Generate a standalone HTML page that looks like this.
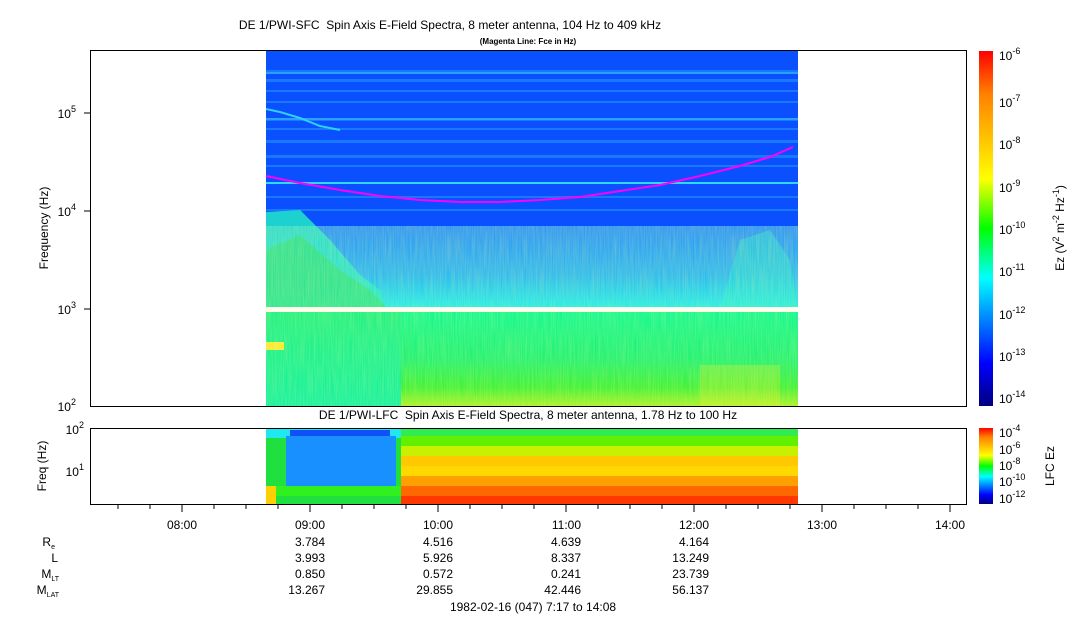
<!DOCTYPE html>
<html><head><meta charset="utf-8"><style>
body{margin:0;background:#fff}
svg{display:block;font-family:"Liberation Sans",sans-serif}
</style></head><body>
<svg width="1083" height="620" viewBox="0 0 1083 620" xmlns="http://www.w3.org/2000/svg">
<defs>
<linearGradient id="cb" x1="0" y1="1" x2="0" y2="0">
<stop offset="0" stop-color="#000080"/><stop offset="0.12" stop-color="#0000ff"/><stop offset="0.36" stop-color="#00ffff"/><stop offset="0.5" stop-color="#00ff00"/><stop offset="0.64" stop-color="#ffff00"/><stop offset="0.88" stop-color="#ff8000"/><stop offset="1" stop-color="#ff0000"/>
</linearGradient>
<linearGradient id="mid" x1="0" y1="0" x2="0" y2="1">
<stop offset="0" stop-color="#1c8cff"/><stop offset="0.6" stop-color="#1cb4f8"/><stop offset="1" stop-color="#10ecf0"/>
</linearGradient>
<linearGradient id="low" x1="0" y1="0" x2="0" y2="1">
<stop offset="0" stop-color="#00f890"/><stop offset="0.5" stop-color="#10f070"/><stop offset="0.8" stop-color="#30f030"/><stop offset="1" stop-color="#a0f020"/>
</linearGradient>
<linearGradient id="lowl" x1="0" y1="0" x2="0" y2="1">
<stop offset="0" stop-color="#10f080"/><stop offset="1" stop-color="#00f0a0"/>
</linearGradient>
<filter id="nz" x="0" y="0" width="1" height="1"><feTurbulence type="fractalNoise" baseFrequency="0.9 0.03" numOctaves="2" seed="3"/><feColorMatrix values="0 0 0 0 1  0 0 0 0 1  0 0 0 0 0.3  0 0 0 0.35 0"/><feComposite in2="SourceGraphic" operator="in"/></filter>
</defs>
<text x="450" y="29" font-size="12" text-anchor="middle" xml:space="preserve">DE 1/PWI-SFC  Spin Axis E-Field Spectra, 8 meter antenna, 104 Hz to 409 kHz</text>
<text x="528" y="44" font-size="8" font-weight="bold" text-anchor="middle">(Magenta Line: Fce in Hz)</text>

<rect x="266" y="51" width="532" height="175" fill="#0a50ff"/>
<g fill="#1a78ff">
<rect x="266" y="70" width="532" height="2"/><rect x="266" y="79" width="532" height="3"/><rect x="266" y="90" width="532" height="2"/><rect x="266" y="101" width="532" height="2"/><rect x="266" y="118" width="532" height="3"/><rect x="266" y="128" width="532" height="2"/><rect x="266" y="140" width="532" height="3"/><rect x="266" y="155" width="532" height="3"/><rect x="266" y="165" width="532" height="2"/><rect x="266" y="196" width="532" height="2"/><rect x="266" y="209" width="532" height="2"/>
</g>
<rect x="266" y="72" width="532" height="2" fill="#2aa0ff"/>
<rect x="266" y="118" width="532" height="2" fill="#2aa0ff"/>
<rect x="266" y="182" width="532" height="2" fill="#30d8ff"/>
<polyline points="266,109 280,112 300,118 320,126 340,130" fill="none" stroke="#30d0f0" stroke-width="2"/>
<rect x="266" y="226" width="532" height="81" fill="url(#mid)"/>
<polygon points="266,212 300,210 330,240 360,275 380,290 386,307 266,307" fill="#20e8c8" opacity="0.85"/>
<polygon points="266,250 300,235 340,270 370,290 386,307 266,307" fill="#20e060" opacity="0.55"/>
<polygon points="720,307 740,240 770,230 790,260 798,307" fill="#20f0d0" opacity="0.4"/>
<rect x="266" y="312" width="532" height="94" fill="url(#low)"/>
<rect x="266" y="312" width="135" height="94" fill="url(#lowl)"/>
<rect x="266" y="342" width="18" height="8" fill="#f8e830"/>
<rect x="700" y="365" width="80" height="41" fill="#e8f020" opacity="0.3"/>
<rect x="266" y="226" width="532" height="180" filter="url(#nz)"/>
<polyline points="266,176 300,183 340,190 380,196 420,200 460,202 500,202 540,200 580,197 620,191 660,185 700,176 740,166 770,157 793,147" fill="none" stroke="#ff00ff" stroke-width="2"/>
<rect x="90.5" y="50.5" width="876" height="356" fill="none" stroke="#000"/>

<g font-size="12" text-anchor="end">
<text x="76" y="118">10<tspan font-size="9" dy="-6">5</tspan></text>
<text x="76" y="216">10<tspan font-size="9" dy="-6">4</tspan></text>
<text x="76" y="314">10<tspan font-size="9" dy="-6">3</tspan></text>
<text x="76" y="411">10<tspan font-size="9" dy="-6">2</tspan></text>
</g>
<g stroke="#000">
<line x1="84" y1="113" x2="90" y2="113"/><line x1="84" y1="211" x2="90" y2="211"/><line x1="84" y1="309" x2="90" y2="309"/>
</g>
<text transform="translate(48,228) rotate(-90)" font-size="12" text-anchor="middle">Frequency (Hz)</text>

<rect x="979" y="51" width="14" height="355" fill="url(#cb)"/>
<g font-size="12">
<text x="999" y="60">10<tspan font-size="9" dy="-6">-6</tspan></text>
<text x="999" y="107">10<tspan font-size="9" dy="-6">-7</tspan></text>
<text x="999" y="149">10<tspan font-size="9" dy="-6">-8</tspan></text>
<text x="999" y="192">10<tspan font-size="9" dy="-6">-9</tspan></text>
<text x="999" y="234">10<tspan font-size="9" dy="-6">-10</tspan></text>
<text x="999" y="276">10<tspan font-size="9" dy="-6">-11</tspan></text>
<text x="999" y="319">10<tspan font-size="9" dy="-6">-12</tspan></text>
<text x="999" y="361">10<tspan font-size="9" dy="-6">-13</tspan></text>
<text x="999" y="403">10<tspan font-size="9" dy="-6">-14</tspan></text>
</g>
<text transform="translate(1064,228) rotate(-90)" font-size="12" text-anchor="middle">Ez (V<tspan font-size="9" dy="-5">2</tspan><tspan dy="5"> m</tspan><tspan font-size="9" dy="-5">-2</tspan><tspan dy="5"> Hz</tspan><tspan font-size="9" dy="-5">-1</tspan><tspan dy="5">)</tspan></text>

<text x="528" y="419" font-size="12" text-anchor="middle" xml:space="preserve">DE 1/PWI-LFC  Spin Axis E-Field Spectra, 8 meter antenna, 1.78 Hz to 100 Hz</text>
<rect x="266" y="428" width="135" height="76" fill="#20e040"/>
<rect x="266" y="428" width="135" height="10" fill="#20e8f0"/>
<rect x="290" y="430" width="100" height="6" fill="#1050f8"/>
<rect x="286" y="436" width="110" height="50" fill="#1890ff"/>
<rect x="266" y="486" width="135" height="10" fill="#30f020"/>
<rect x="266" y="486" width="10" height="18" fill="#ffd000"/>
<rect x="401" y="428" width="397" height="8" fill="#30ec50"/>
<rect x="401" y="436" width="397" height="10" fill="#60f000"/>
<rect x="401" y="446" width="397" height="10" fill="#c8f000"/>
<rect x="401" y="456" width="397" height="10" fill="#ffc800"/>
<rect x="401" y="466" width="397" height="10" fill="#ffd800"/>
<rect x="401" y="476" width="397" height="10" fill="#ffa000"/>
<rect x="401" y="486" width="397" height="10" fill="#ff6800"/>
<rect x="401" y="496" width="397" height="8" fill="#ff3800"/>
<rect x="90.5" y="428.5" width="876" height="76" fill="none" stroke="#000"/>
<g font-size="12" text-anchor="end">
<text x="84" y="434">10<tspan font-size="9" dy="-6">2</tspan></text>
<text x="84" y="476">10<tspan font-size="9" dy="-6">1</tspan></text>
</g>
<text transform="translate(46,466) rotate(-90)" font-size="12" text-anchor="middle">Freq (Hz)</text>
<rect x="979" y="428" width="14" height="76" fill="url(#cb)"/>
<g font-size="12">
<text x="999" y="437">10<tspan font-size="9" dy="-6">-4</tspan></text>
<text x="999" y="454">10<tspan font-size="9" dy="-6">-6</tspan></text>
<text x="999" y="470">10<tspan font-size="9" dy="-6">-8</tspan></text>
<text x="999" y="486">10<tspan font-size="9" dy="-6">-10</tspan></text>
<text x="999" y="503">10<tspan font-size="9" dy="-6">-12</tspan></text>
</g>
<text transform="translate(1054,466) rotate(-90)" font-size="12" text-anchor="middle">LFC Ez</text>

<g stroke="#000">
<line x1="118" y1="505" x2="118" y2="509"/><line x1="150" y1="505" x2="150" y2="509"/><line x1="182" y1="505" x2="182" y2="512"/><line x1="214" y1="505" x2="214" y2="509"/><line x1="246" y1="505" x2="246" y2="509"/><line x1="278" y1="505" x2="278" y2="509"/>
<line x1="310" y1="505" x2="310" y2="512"/><line x1="342" y1="505" x2="342" y2="509"/><line x1="374" y1="505" x2="374" y2="509"/><line x1="406" y1="505" x2="406" y2="509"/>
<line x1="438" y1="505" x2="438" y2="512"/><line x1="470" y1="505" x2="470" y2="509"/><line x1="502" y1="505" x2="502" y2="509"/><line x1="534" y1="505" x2="534" y2="509"/>
<line x1="566" y1="505" x2="566" y2="512"/><line x1="598" y1="505" x2="598" y2="509"/><line x1="630" y1="505" x2="630" y2="509"/><line x1="662" y1="505" x2="662" y2="509"/>
<line x1="694" y1="505" x2="694" y2="512"/><line x1="726" y1="505" x2="726" y2="509"/><line x1="758" y1="505" x2="758" y2="509"/><line x1="790" y1="505" x2="790" y2="509"/>
<line x1="822" y1="505" x2="822" y2="512"/><line x1="854" y1="505" x2="854" y2="509"/><line x1="886" y1="505" x2="886" y2="509"/><line x1="918" y1="505" x2="918" y2="509"/>
<line x1="950" y1="505" x2="950" y2="512"/>
</g>
<g font-size="12" text-anchor="end">
<text x="197" y="529">08:00</text><text x="325" y="529">09:00</text><text x="453" y="529">10:00</text><text x="581" y="529">11:00</text><text x="709" y="529">12:00</text><text x="837" y="529">13:00</text><text x="965" y="529">14:00</text>
<text x="325" y="546">3.784</text><text x="453" y="546">4.516</text><text x="581" y="546">4.639</text><text x="709" y="546">4.164</text>
<text x="325" y="562">3.993</text><text x="453" y="562">5.926</text><text x="581" y="562">8.337</text><text x="709" y="562">13.249</text>
<text x="325" y="578">0.850</text><text x="453" y="578">0.572</text><text x="581" y="578">0.241</text><text x="709" y="578">23.739</text>
<text x="325" y="594">13.267</text><text x="453" y="594">29.855</text><text x="581" y="594">42.446</text><text x="709" y="594">56.137</text>
<text x="55" y="546">R<tspan font-size="7" dy="3">e</tspan></text>
<text x="58" y="562">L</text>
<text x="59" y="578">M<tspan font-size="7" dy="3">LT</tspan></text>
<text x="59" y="594">M<tspan font-size="7" dy="3">LAT</tspan></text>
</g>
<text x="533" y="611" font-size="12" text-anchor="middle">1982-02-16 (047) 7:17 to 14:08</text>
</svg>
</body></html>
